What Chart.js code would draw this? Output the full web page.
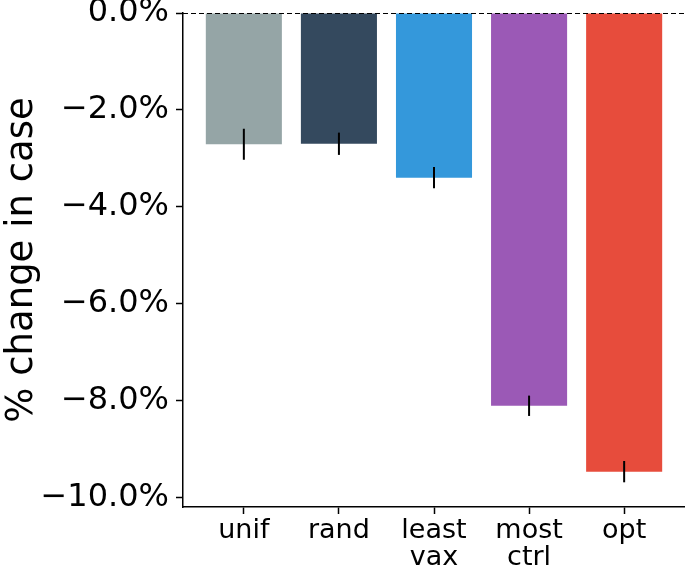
<!DOCTYPE html>
<html>
<head>
<meta charset="utf-8">
<script src="https://cdn.jsdelivr.net/npm/chart.js@4/dist/chart.umd.min.js"></script>
<style>
  html, body { margin: 0; padding: 0; background: #fff; }
  #wrap { width: 685px; height: 570px; }
</style>
</head>
<body>
<div id="wrap"><canvas id="chart1"></canvas></div>
<script>
const categories = [["unif"], ["rand"], ["least", "vax"], ["most", "ctrl"], ["opt"]];
const change = [-2.71, -2.70, -3.40, -8.11, -9.47];
const err = [0.32, 0.23, 0.22, 0.21, 0.22];
const colors = ['#95a5a6', '#34495e', '#3498db', '#9b59b6', '#e74c3c'];
const y_ticks = [0, -2, -4, -6, -8, -10];

const errorBars = {
    id: 'errorBars',
    afterDatasetsDraw(chart) {
        const ctx = chart.ctx;
        const xs = chart.scales.x;
        const ys = chart.scales.y;
        ctx.save();
        // dashed zero line
        const y0 = Math.round(ys.getPixelForValue(0)) + 0.5;
        ctx.strokeStyle = '#000';
        ctx.lineWidth = 1;
        ctx.setLineDash([5, 3]);
        ctx.beginPath();
        ctx.moveTo(chart.chartArea.left, y0);
        ctx.lineTo(chart.width, y0);
        ctx.stroke();
        ctx.setLineDash([]);
        // error bars
        ctx.lineWidth = 2;
        for (let i = 0; i < change.length; i++) {
            const x = xs.getPixelForValue(i);
            ctx.beginPath();
            ctx.moveTo(x, ys.getPixelForValue(change[i] + err[i]));
            ctx.lineTo(x, ys.getPixelForValue(change[i] - err[i]));
            ctx.stroke();
        }
        ctx.restore();
    }
};

function chart1() {
    const ctx = document.getElementById('chart1');
    new Chart(ctx, {
        type: 'bar',
        data: {
            datasets: [{
                data: change.map((v, i) => ({ x: i, y: v })),
                backgroundColor: colors,
                barPercentage: 0.8,
                categoryPercentage: 1.0
            }]
        },
        options: {
            responsive: true,
            maintainAspectRatio: false,
            animation: { duration: 0 },
            layout: { padding: { top: 13, left: 0, right: 0, bottom: 0 } },
            plugins: { legend: { display: false }, tooltip: { enabled: false } },
            scales: {
                x: {
                    type: 'linear',
                    offset: false,
                    min: -0.64,
                    max: 4.64,
                    afterBuildTicks: s => { s.ticks = categories.map((c, i) => ({ value: i })); },
                    afterFit: s => { s.height = 63; s.paddingLeft = 0; s.paddingRight = 0; },
                    ticks: {
                        callback: v => categories[v],
                        color: '#000',
                        font: { family: 'DejaVu Sans', size: 27, lineHeight: 1.02 },
                        padding: 3,
                        maxRotation: 0,
                        autoSkip: false
                    },
                    grid: { offset: false, drawOnChartArea: false, drawTicks: true, tickLength: 7, color: '#000', tickWidth: 1.5 },
                    border: { display: true, color: '#000', width: 1.5 }
                },
                y: {
                    min: -10.2,
                    max: 0,
                    afterBuildTicks: s => { s.ticks = y_ticks.map(v => ({ value: v })); },
                    afterFit: s => { s.width = 183; s.paddingTop = 0; s.paddingBottom = 0; },
                    ticks: {
                        callback: v => (v < 0 ? '\u2212' + Math.abs(v).toFixed(1) : v.toFixed(1)) + '%',
                        color: '#000',
                        font: { family: 'DejaVu Sans', size: 32 },
                        padding: 7
                    },
                    title: {
                        display: true,
                        text: '% change in case',
                        color: '#000',
                        font: { family: 'DejaVu Sans', size: 37 },
                        padding: 0
                    },
                    grid: { drawOnChartArea: false, drawTicks: true, tickLength: 7, color: '#000', tickWidth: 1.5 },
                    border: { display: true, color: '#000', width: 1.5 }
                }
            }
        },
        plugins: [errorBars]
    });
}

chart1();
</script>
</body>
</html>
